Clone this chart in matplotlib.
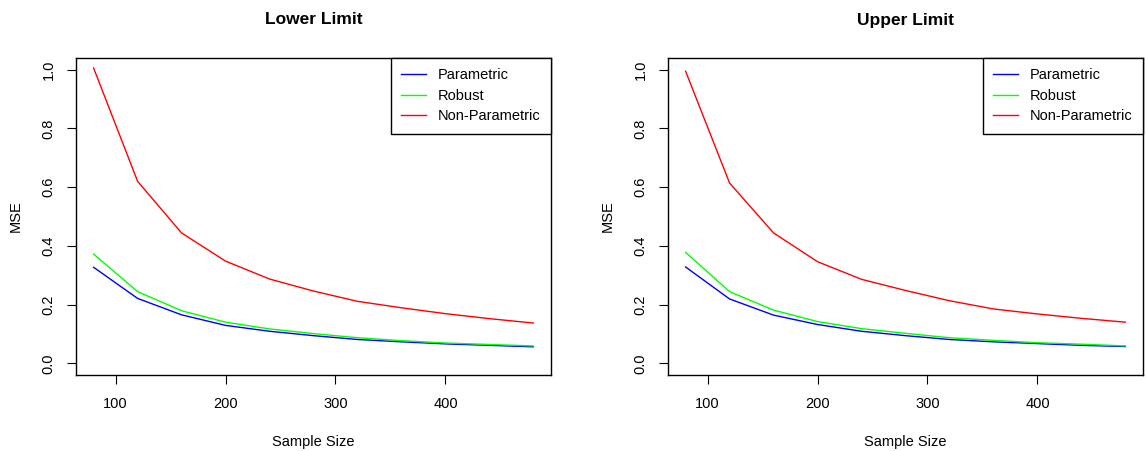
import matplotlib
matplotlib.use("Agg")
import matplotlib.pyplot as plt

plt.rcParams["font.family"] = ["Liberation Sans", "DejaVu Sans"]
plt.rcParams["font.size"] = 10.5

sample_size = [80, 120, 160, 200, 240, 280, 320, 360, 400, 440, 480]

# Lower limit MSE
lower_param = [0.327, 0.221, 0.165, 0.129, 0.109, 0.094, 0.081, 0.073, 0.066, 0.061, 0.056]
lower_robust = [0.372, 0.244, 0.179, 0.140, 0.117, 0.101, 0.087, 0.077, 0.069, 0.064, 0.059]
lower_nonpar = [1.006, 0.620, 0.444, 0.348, 0.287, 0.246, 0.211, 0.189, 0.169, 0.152, 0.137]

# Upper limit MSE
upper_param = [0.328, 0.219, 0.164, 0.132, 0.109, 0.094, 0.081, 0.073, 0.067, 0.061, 0.057]
upper_robust = [0.378, 0.244, 0.181, 0.142, 0.118, 0.102, 0.087, 0.078, 0.070, 0.065, 0.059]
upper_nonpar = [0.995, 0.614, 0.444, 0.346, 0.286, 0.248, 0.213, 0.185, 0.168, 0.153, 0.140]

panels = [
    ("Lower Limit", lower_param, lower_robust, lower_nonpar),
    ("Upper Limit", upper_param, upper_robust, upper_nonpar),
]

fig = plt.figure(figsize=(11.46, 4.51), dpi=100)
W, H = 1146, 451
lefts = [76, 668]
bottom, top = 375, 58
width = 475

for left, (title, par, rob, non) in zip(lefts, panels):
    ax = fig.add_axes([left / W, (H - bottom) / H, width / W, (bottom - top) / H])
    ax.plot(sample_size, par, color="#0000FF", lw=1.0, label="Parametric")
    ax.plot(sample_size, rob, color="#00FF00", lw=1.0, label="Robust")
    ax.plot(sample_size, non, color="#FF0000", lw=1.0, label="Non-Parametric")
    ax.set_xlim(64, 496)
    ax.set_ylim(-0.04, 1.04)
    ax.set_xticks([100, 200, 300, 400])
    ax.set_yticks([0.0, 0.2, 0.4, 0.6, 0.8, 1.0])
    ax.set_yticklabels(["0.0", "0.2", "0.4", "0.6", "0.8", "1.0"],
                       rotation=90, va="center")
    ax.tick_params(direction="out", length=6.5, width=0.8, pad=8)
    ax.tick_params(axis="x", pad=9)
    for sp in ax.spines.values():
        sp.set_linewidth(1.0)
    ax.text(0.5, (bottom - 20) / (bottom - top), title, transform=ax.transAxes,
            ha="center", va="center", fontsize=12.5, fontweight="bold")
    ax.text(0.5, (bottom - 442) / (bottom - top), "Sample Size",
            transform=ax.transAxes, ha="center", va="center")
    ax.text(-60 / width, 0.5, "MSE", transform=ax.transAxes,
            ha="center", va="center", rotation=90)
    leg = ax.legend(loc="upper right", borderaxespad=0, fancybox=False,
                    edgecolor="black", framealpha=1, handlelength=1.75,
                    handletextpad=0.8, borderpad=0.7, labelspacing=0.45)
    leg.get_frame().set_linewidth(1.0)

fig.savefig("out.png", dpi=100)
